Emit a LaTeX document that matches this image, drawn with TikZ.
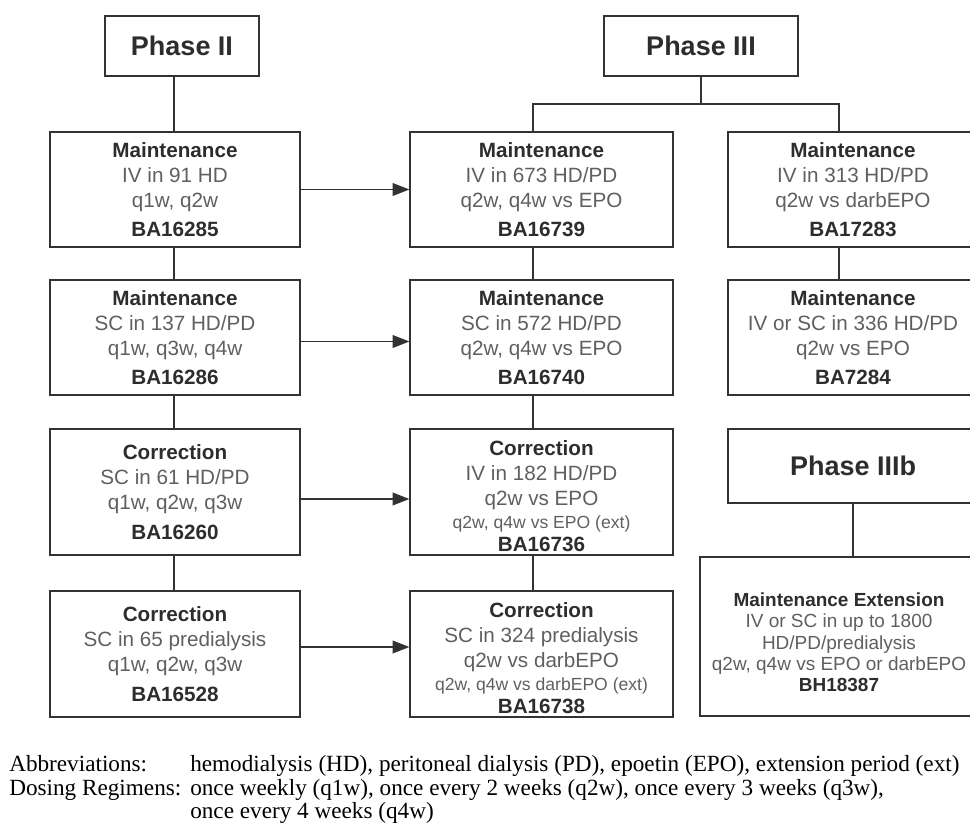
\documentclass[tikz,border=0pt]{standalone}
\usepackage{fontspec}
\setmainfont{Liberation Sans}
\newfontfamily\notefont{Liberation Serif}
\usetikzlibrary{arrows.meta,positioning}
\definecolor{ink}{RGB}{45,45,45}
\definecolor{slate}{RGB}{95,95,95}
\definecolor{rule}{RGB}{50,50,50}
\newcommand{\hd}[1]{\textbf{\color{ink}#1}}
\tikzset{
  >={Triangle[length=4.2mm,width=3.2mm]},
  study/.style={draw=rule,line width=0.9pt,inner sep=0pt,minimum width=#1,
    align=center,text=slate,font=\fontsize{14.7}{17.8}\selectfont},
  study/.default=6.25cm,
  phase/.style={draw=rule,line width=0.9pt,inner sep=0pt,minimum height=1.5cm,
    text=ink,font=\fontsize{19.2}{23}\selectfont\bfseries},
  link/.style={draw=rule,line width=0.9pt},
  flow/.style={->,draw=rule,line width=0.9pt},
  note/.style={anchor=base west,inner sep=0pt,text=black,
    font=\notefont\fontsize{16.5}{17}\selectfont},
}
\begin{document}
\begin{tikzpicture}
  \clip (0,0) rectangle (24.25,-20.675);
  % headers
  \node[phase,minimum width=3.85cm] (ph2) at (4.55,-1.15) {Phase II};
  \node[phase,minimum width=4.85cm] (ph3) at (17.525,-1.15) {Phase III};
  % phase II column
  \node[study,minimum height=2.875cm] (a1) at (4.375,-4.7375)
    {\hd{Maintenance}\\IV in 91 HD\\q1w, q2w\\[3pt]\hd{BA16285}};
  \node[study,minimum height=2.875cm] (a2) at (4.375,-8.4375)
    {\hd{Maintenance}\\SC in 137 HD/PD\\q1w, q3w, q4w\\[3pt]\hd{BA16286}};
  \node[study,minimum height=3.15cm] (a3) at (4.375,-12.3)
    {\hd{Correction}\\SC in 61 HD/PD\\q1w, q2w, q3w\\[3pt]\hd{BA16260}};
  \node[study,minimum height=3.15cm] (a4) at (4.375,-16.35)
    {\hd{Correction}\\SC in 65 predialysis\\q1w, q2w, q3w\\[3pt]\hd{BA16528}};
  % phase III columns
  \node[study=6.575cm,minimum height=2.875cm] (b1) at (13.5375,-4.7375)
    {\hd{Maintenance}\\IV in 673 HD/PD\\q2w, q4w vs EPO\\[3pt]\hd{BA16739}};
  \node[study=6.575cm,minimum height=2.875cm] (b2) at (13.5375,-8.4375)
    {\hd{Maintenance}\\SC in 572 HD/PD\\q2w, q4w vs EPO\\[3pt]\hd{BA16740}};
  \node[study=6.575cm,minimum height=3.15cm] (b3) at (13.5375,-12.3)
    {\rule{0pt}{16pt}\hd{Correction}\\IV in 182 HD/PD\\q2w vs EPO\\[-1pt]{\fontsize{12.5}{15}\selectfont q2w, q4w vs EPO (ext)}\\[-2pt]\hd{BA16736}};
  \node[study=6.575cm,minimum height=3.15cm] (b4) at (13.5375,-16.35)
    {\rule{0pt}{16pt}\hd{Correction}\\SC in 324 predialysis\\q2w vs darbEPO\\[-1pt]{\fontsize{12.5}{15}\selectfont q2w, q4w vs darbEPO (ext)}\\[-2pt]\hd{BA16738}};
  \node[study,minimum height=2.875cm] (c1) at (21.325,-4.7375)
    {\hd{Maintenance}\\IV in 313 HD/PD\\q2w vs darbEPO\\[3pt]\hd{BA17283}};
  \node[study,minimum height=2.875cm] (c2) at (21.325,-8.4375)
    {\hd{Maintenance}\\IV or SC in 336 HD/PD\\q2w vs EPO\\[3pt]\hd{BA7284}};
  \node[phase,minimum width=6.25cm,minimum height=1.85cm] (ph3b) at (21.325,-11.65) {Phase IIIb};
  \node[study=6.95cm,minimum height=3.975cm,font=\fontsize{13.5}{15}\selectfont] (extn) at (20.975,-15.9125)
    {\rule{0pt}{18pt}\hd{Maintenance Extension}\\IV or SC in up to 1800\\HD/PD/predialysis\\q2w, q4w vs EPO or darbEPO\\\hd{BH18387}};
  % spines
  \coordinate (s1) at (4.35,0);
  \coordinate (s2) at (13.325,0);
  \coordinate (s3) at (20.975,0);
  \coordinate (fork) at (17.525,-2.6);
  \foreach \u/\v/\s in {ph2/a1/s1,a1/a2/s1,a2/a3/s1,a3/a4/s1,
      b1/b2/s2,b2/b3/s2,b3/b4/s2,c1/c2/s3}
    \draw[link] (\u.south -| \s) -- (\v.north -| \s);
  \draw[link] (ph3.south) -- (fork);
  \draw[link] (b1.north -| s2) |- (fork) -| (c1.north -| s3);
  \draw[link] (ph3b.south) -- (ph3b.south |- extn.north);
  \foreach \u/\v/\d in {a1/b1/0,a2/b2/-0.1,a3/b3/-0.175,a4/b4/0.175}
    \draw[flow] ([yshift=\d cm]\u.east) -- ([yshift=\d cm]\v.west);
  % legend
  \node[note] (abbrkey) at (0.225,-19.275) {Abbreviations:};
  \node[note] (abbrtext) at (4.75,-19.275) {hemodialysis (HD), peritoneal dialysis (PD), epoetin (EPO), extension period (ext)};
  \node[note] (dosekey) at (0.225,-19.875) {Dosing Regimens:};
  \node[note] (dosetext) at (4.75,-19.875) {once weekly (q1w), once every 2 weeks (q2w), once every 3 weeks (q3w),};
  \node[note] (dosemore) at (4.75,-20.45) {once every 4 weeks (q4w)};
\end{tikzpicture}
\end{document}
